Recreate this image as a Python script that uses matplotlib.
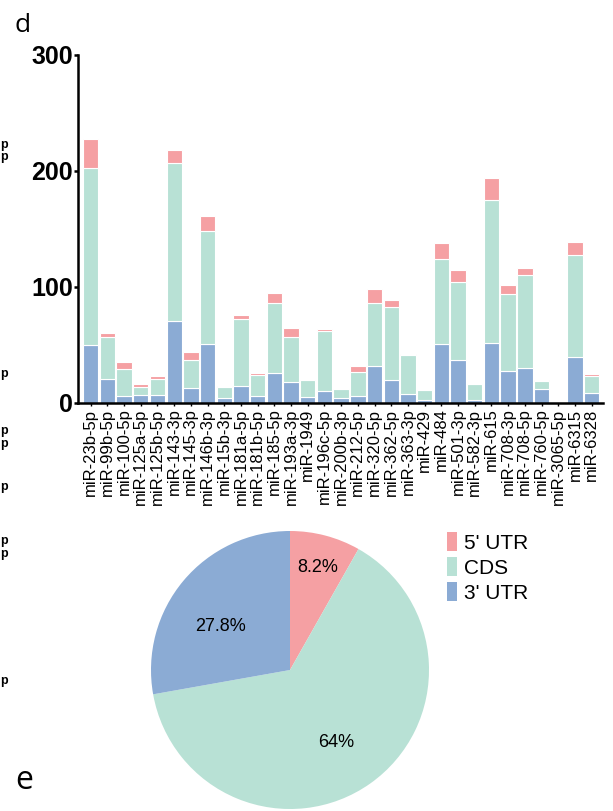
import numpy as np
import matplotlib.pyplot as plt
from matplotlib.patches import Patch

# --- DATA ---
mirnas = ['miR-23b-5p', 'miR-99b-5p', 'miR-100-5p', 'miR-125a-5p', 'miR-125b-5p',
          'miR-143-3p', 'miR-145-3p', 'miR-146b-3p', 'miR-15b-3p', 'miR-181a-5p',
          'miR-181b-5p', 'miR-185-5p', 'miR-193a-3p', 'miR-1949', 'miR-196c-5p',
          'miR-200b-3p', 'miR-212-5p', 'miR-320-5p', 'miR-362-5p', 'miR-363-3p',
          'miR-429', 'miR-484', 'miR-501-3p', 'miR-582-3p', 'miR-615',
          'miR-708-3p', 'miR-708-5p', 'miR-760-5p', 'miR-3065-5p', 'miR-6315', 'miR-6328']
utr3 = [50, 21, 6, 7, 7, 71, 13, 51, 4, 15, 6, 26, 18, 5, 10, 4, 6, 32, 20, 8,
        3, 51, 37, 3, 52, 28, 30, 12, 0, 40, 9]
cds = [153, 36, 23, 7, 14, 136, 24, 97, 10, 57, 18, 60, 39, 15, 52, 8, 21, 54, 63, 33,
       8, 73, 67, 13, 123, 66, 80, 7, 0, 88, 14]
utr5 = [25, 3, 6, 2, 2, 11, 7, 13, 1, 4, 2, 9, 8, 0, 2, 0, 5, 12, 6, 1,
        0, 14, 11, 0, 19, 8, 6, 1, 0, 11, 2]

region_labels = ["5' UTR", 'CDS', "3' UTR"]
region_pct = [8.2, 64.0, 27.8]
pct_text = ['8.2%', '64%', '27.8%']

C5 = '#F5A0A3'
CCDS = '#B8E1D5'
C3 = '#8BABD4'

plt.rcParams['font.family'] = ['Liberation Sans', 'DejaVu Sans']

fig = plt.figure(figsize=(6.13, 8.11), dpi=100)

# --- panel d: stacked bars ---
ax = fig.add_axes([78 / 613, 1 - 403 / 811, 525 / 613, 348 / 811])
x = np.arange(len(mirnas))
u3 = np.array(utr3)
cd = np.array(cds)
u5 = np.array(utr5)
ax.bar(x, u3, width=0.92, color=C3, edgecolor='white', linewidth=0.8)
ax.bar(x, cd, bottom=u3, width=0.92, color=CCDS, edgecolor='white', linewidth=0.8)
ax.bar(x, u5, bottom=u3 + cd, width=0.92, color=C5, edgecolor='white', linewidth=0.8)

ax.set_xlim(-0.76, 30.68)
ax.set_ylim(0, 300)
ax.set_yticks([0, 100, 200, 300])
ax.set_xticks(x)
ax.set_xticklabels(mirnas, rotation=90, fontsize=12)
for lab in ax.get_yticklabels():
    lab.set_fontweight('bold')
    lab.set_fontsize(18)
ax.tick_params(axis='y', length=3, width=1.8, pad=0.5)
ax.tick_params(axis='x', length=2.5, width=1, pad=1.5)
for s in ['top', 'right']:
    ax.spines[s].set_visible(False)
for s in ['left', 'bottom']:
    ax.spines[s].set_linewidth(1.8)

# --- panel e: pie ---
ax2 = fig.add_axes([151 / 613, 1 - 809 / 811, 278 / 613, 278 / 811])
ax2.pie(region_pct, colors=[C5, CCDS, C3], startangle=90, counterclock=False,
        wedgeprops=dict(linewidth=0))
ax2.set_xlim(-1, 1)
ax2.set_ylim(-1, 1)
ax2.set_aspect('equal')
for (tx, ty), t in zip([(0.20, 0.74), (0.33, -0.52), (-0.50, 0.31)], pct_text):
    ax2.text(tx, ty, t, ha='center', va='center', fontsize=13)

handles = [Patch(facecolor=c, edgecolor='none') for c in [C5, CCDS, C3]]
fig.legend(handles, region_labels, loc='upper left',
           bbox_to_anchor=(447 / 613, 1 - 532 / 811), frameon=False, fontsize=15,
           handlelength=0.48, handleheight=1.06, handletextpad=0.35,
           labelspacing=0.2, borderpad=0, borderaxespad=0)

# panel letters
fig.text(15 / 613, 1 - 32 / 811, 'd', fontsize=19, family='Open Sans', va='baseline')
fig.text(15 / 613, 1 - 789 / 811, 'e', fontsize=23, family='Open Sans', va='baseline')

# clipped text left over from the neighbouring panel
for yb in [148, 160, 377, 434, 447, 490, 544, 557, 684]:
    fig.text(0, 1 - yb / 811, 'p', fontsize=9, fontweight='bold', va='baseline')

fig.savefig('out.png', dpi=100)
